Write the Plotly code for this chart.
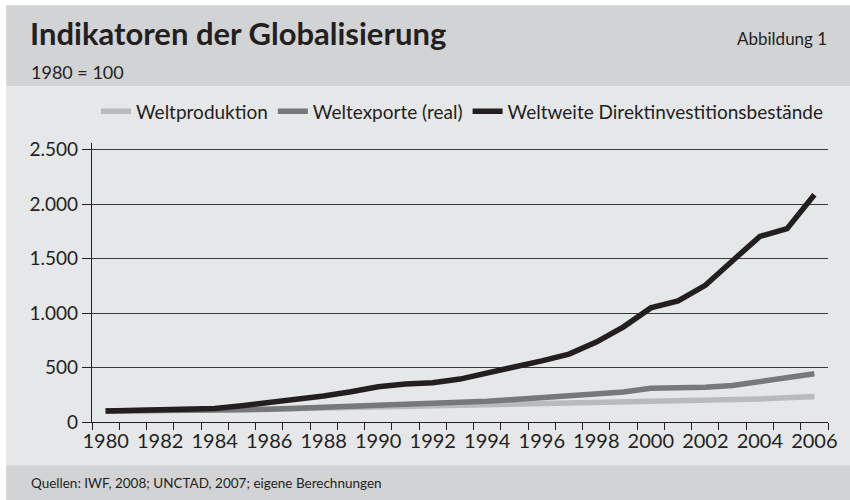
import plotly.graph_objects as go

# ── Data (1980 = 100) ─────────────────────────────────────────────────────────
years = list(range(1980, 2007))

weltproduktion = [100, 102, 102, 105, 110, 114, 118, 122, 128, 133, 137, 139, 142, 145,
                  150, 155, 161, 168, 172, 178, 186, 190, 195, 202, 212, 222, 233]
weltexporte = [100, 101, 99, 102, 110, 113, 118, 126, 137, 146, 154, 160, 168, 173,
               190, 207, 225, 248, 260, 275, 310, 310, 318, 335, 370, 405, 442]
direktinvest = [100, 105, 110, 115, 125, 150, 177, 210, 238, 278, 324, 348, 360, 394,
                446, 510, 561, 623, 733, 873, 1047, 1111, 1254, 1480, 1703, 1774, 2085]

series_names = ["Weltproduktion", "Weltexporte (real)", "Weltweite Direktinvestitionsbestände"]
series_colors = ["#b9babc", "#77787a", "#231f20"]

tick_years = years[::2]
y_ticks = [0, 500, 1000, 1500, 2000, 2500]
y_labels = ["0", "500", "1.000", "1.500", "2.000", "2.500"]

FONT = "Lato, 'Open Sans', sans-serif"
W, H = 850, 500
L, R, T, B = 92.3, 17.5, 142.7, 78.3
PW, PH = W - L - R, H - T - B


def px_x(x):
    return (x - L) / PW


def px_y(y):
    return (H - B - y) / PH


fig = go.Figure()
for name, vals, col in zip(series_names, [weltproduktion, weltexporte, direktinvest], series_colors):
    fig.add_trace(go.Scatter(
        x=years, y=vals, name=name, mode="lines",
        line=dict(color=col, width=5.5),
    ))

# background bands (header, chart body, footer)
bands = [
    (6, 5, W + 10, 86, "#d2d3d5"),
    (6, 86, W + 10, 465, "#e6e7e8"),
    (6, 465, W + 10, H + 10, "#d2d3d5"),
]
shapes = [
    dict(type="rect", xref="paper", yref="paper", layer="below", line_width=0,
         x0=px_x(x0), x1=px_x(x1), y0=px_y(y1), y1=px_y(y0), fillcolor=c)
    for x0, y0, x1, y1, c in bands
]

annotations = [
    dict(text="<b>Indikatoren der Globalisierung</b>", x=px_x(28), y=px_y(33),
         font=dict(size=31, color="#231f20")),
    dict(text="1980 = 100", x=px_x(29), y=px_y(72), font=dict(size=18, color="#231f20")),
    dict(text="Abbildung 1", x=px_x(834), y=px_y(38), xanchor="right",
         font=dict(size=17, color="#231f20")),
    dict(text="Quellen: IWF, 2008; UNCTAD, 2007; eigene Berechnungen", x=px_x(29), y=px_y(483),
         font=dict(size=13.5, color="#231f20")),
]
for a in annotations:
    a.update(xref="paper", yref="paper", showarrow=False, yanchor="middle")
    a.setdefault("xanchor", "left")

fig.update_layout(
    width=W, height=H, autosize=False,
    margin=dict(l=L, r=R, t=T, b=B),
    paper_bgcolor="white", plot_bgcolor="rgba(0,0,0,0)",
    font=dict(family=FONT, color="#231f20"),
    shapes=shapes, annotations=annotations,
    legend=dict(orientation="h", x=1.0, xanchor="right", y=px_y(111), yanchor="middle",
                font=dict(size=19), bgcolor="rgba(0,0,0,0)", itemwidth=30,
                tracegroupgap=0),
)
fig.update_xaxes(
    range=[1979.5, 2006.5], tickvals=tick_years, ticks="", showgrid=False,
    showline=True, linecolor="#231f20", linewidth=1.3,
    tickfont=dict(size=20), ticklabelstandoff=1,
    minor=dict(ticks="outside", tick0=1979.5, dtick=1, ticklen=7,
               tickcolor="#231f20", tickwidth=1.3, showgrid=False),
    zeroline=False,
)
fig.update_yaxes(
    range=[0, 2560], tickvals=y_ticks, ticktext=y_labels, ticks="outside", ticklen=9,
    tickcolor="#231f20", tickwidth=1.3, showgrid=True, gridcolor="#3a3a3a", gridwidth=1.3,
    showline=True, linecolor="#231f20", linewidth=1.3, tickfont=dict(size=19),
    zeroline=False, ticklabelstandoff=0,
)

# drop the default body margin and scrollbars so the figure fills the window
fig.write_html(
    "out.html",
    config={"displayModeBar": False, "responsive": False},
    post_script="document.body.style.margin='0';document.body.style.overflow='hidden';",
)
